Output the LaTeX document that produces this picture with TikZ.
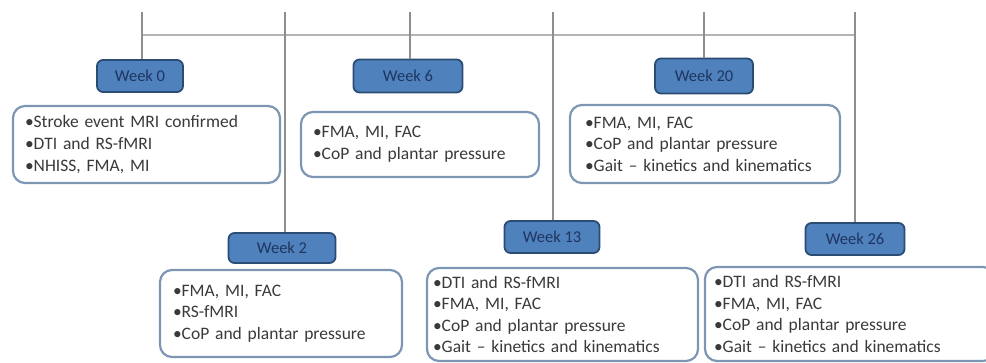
\documentclass[tikz,border=0pt]{standalone}
\usepackage{fontspec}
\setmainfont{Carlito}
\definecolor{hdrfill}{HTML}{4F81BD}
\definecolor{hdrdraw}{HTML}{2B4C74}
\definecolor{hdrtext}{HTML}{1F3560}
\definecolor{boxdraw}{HTML}{7D96B4}
\definecolor{bodytext}{HTML}{3A3A3A}
\definecolor{tline}{HTML}{B4B4B4}
\definecolor{vline}{HTML}{8E8E8E}
\tikzset{
  hdr/.style={draw=hdrdraw, line width=1.8pt, fill=hdrfill, rounded corners=6pt,
    text=hdrtext, font=\fontsize{16.5}{20}\selectfont, inner sep=0pt},
  content/.style={draw=boxdraw, line width=2.2pt, fill=white, rounded corners=12pt,
    text=bodytext, font=\fontsize{17.5}{21.6}\selectfont, align=left, inner ysep=0pt},
  tl/.style={draw=tline, line width=2pt},
  vl/.style={draw=vline, line width=1.5pt}
}
\newcommand{\cbox}[7]{% name, cx, cy, W, H, pad, text
  \node[content, minimum width=#4pt, minimum height=#5pt, inner xsep=#6pt,
        text width=#4pt-2*#6pt] (#1) at (#2,#3) {#7};}
\begin{document}
\begin{tikzpicture}[x=1pt,y=-1pt]
\useasboundingbox (0,0) rectangle (986,363);
\fill[white] (0,0) rectangle (986,363);
% timeline
\coordinate (h0) at (142,35);
\coordinate (h26) at (855,35);
\coordinate (t0) at (142,12);
\coordinate (t2) at (285,12);
\coordinate (t6) at (410,12);
\coordinate (t13) at (553,12);
\coordinate (t20) at (704,12);
\coordinate (t26) at (855,12);
% headers
\node[hdr, minimum width=86pt, minimum height=32pt] (w0) at (140,76) {Week 0};
\node[hdr, minimum width=109pt, minimum height=33pt] (w6) at (408,76) {Week 6};
\node[hdr, minimum width=98pt, minimum height=35pt] (w20) at (704,76) {Week 20};
\node[hdr, minimum width=107pt, minimum height=30pt] (w2) at (282,248) {Week 2};
\node[hdr, minimum width=95pt, minimum height=32pt] (w13) at (552,237) {Week 13};
\node[hdr, minimum width=99pt, minimum height=32pt] (w26) at (855,239) {Week 26};
% connectors
\draw[tl] (h0) -- (h26);
\draw[vl] (t0) -- (t0 |- w0.north);
\draw[vl] (t2) -- (t2 |- w2.north);
\draw[vl] (t6) -- (t6 |- w6.north);
\draw[vl] (t13) -- (t13 |- w13.north);
\draw[vl] (t20) -- (t20 |- w20.north);
\draw[vl] (t26) -- (t26 |- w26.north);
% content boxes
\cbox{c0}{146.5}{144.5}{267}{77}{12}{•Stroke event MRI confirmed\\•DTI and RS-fMRI\\•NHISS, FMA, MI}
\cbox{c6}{420}{144.5}{238}{65}{12}{•FMA, MI, FAC\\•CoP and plantar pressure}
\cbox{c20}{705}{144}{270}{78}{15}{•FMA, MI, FAC\\•CoP and plantar pressure\\•Gait – kinetics and kinematics}
\cbox{c2}{281}{313.5}{242}{87}{13}{•FMA, MI, FAC\\•RS-fMRI\\•CoP and plantar pressure}
\cbox{c13}{562.5}{314.5}{271}{93}{6}{•DTI and RS-fMRI\\•FMA, MI, FAC\\•CoP and plantar pressure\\•Gait – kinetics and kinematics}
\cbox{c26}{850}{314}{290}{94}{9}{•DTI and RS-fMRI\\•FMA, MI, FAC\\•CoP and plantar pressure\\•Gait – kinetics and kinematics}
\end{tikzpicture}
\end{document}
